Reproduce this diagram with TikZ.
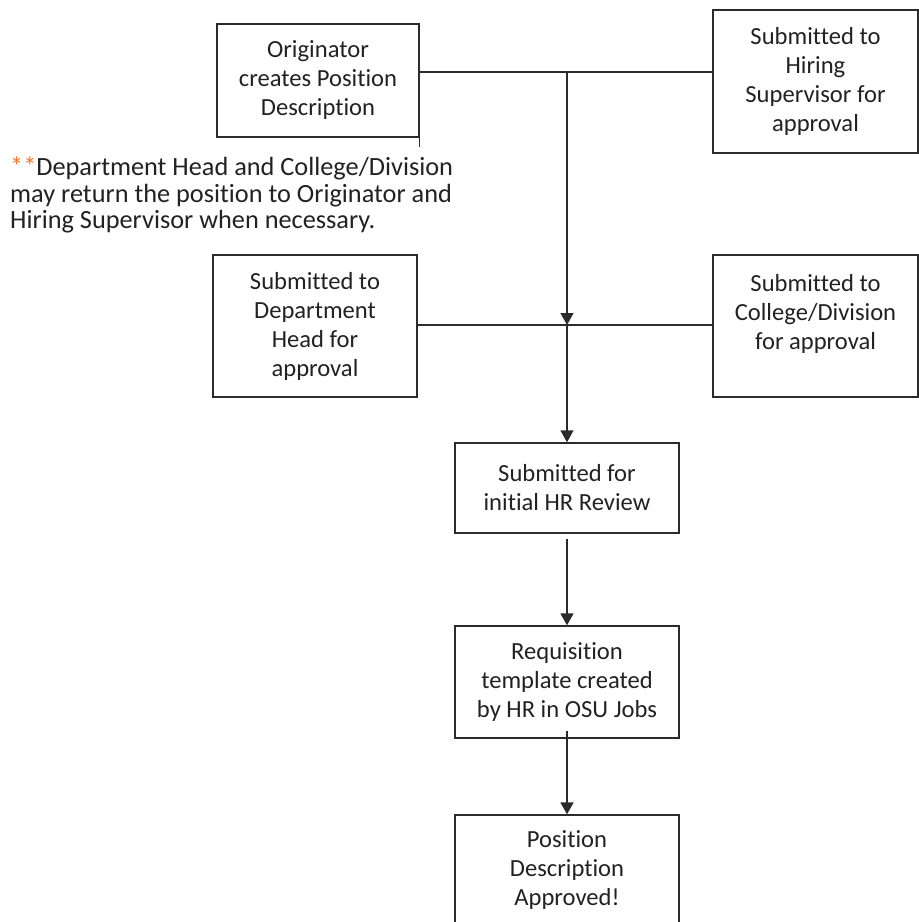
\documentclass[tikz,border=0pt]{standalone}
\usepackage{fontspec}
\setmainfont{Carlito}[Ligatures={NoCommon}]
\usetikzlibrary{arrows.meta}
\definecolor{linec}{HTML}{2B2B2B}
\definecolor{txtc}{HTML}{222222}
\definecolor{starc}{HTML}{F7742A}
\begin{document}
\begin{tikzpicture}[x=1pt,y=-1pt,
  box/.style={draw=linec, line width=1.4pt, inner sep=0pt, align=center, text=txtc,
    font=\fontsize{24.6}{29}\selectfont},
  conn/.style={draw=linec, line width=1.4pt},
  arr/.style={draw=linec, line width=1.8pt, -{Triangle[width=13pt,length=12pt]}}]
\clip (0,0) rectangle (919,922);
\fill[white] (0,0) rectangle (919,922);
% boxes
\node[box, minimum width=202pt, minimum height=113pt] (orig) at (318,80.5)
  {Originator\\creates Position\\Description};
\node[box, minimum width=205pt, minimum height=143pt] (hire) at (815.5,81.5)
  {Submitted to\\Hiring\\Supervisor for\\approval};
\node[box, minimum width=204pt, minimum height=142pt] (dept) at (315,326)
  {Submitted to\\Department\\Head for\\approval};
\node[box, minimum width=205pt, minimum height=142pt] (coll) at (815.5,326)
  {Submitted to\\College/Division\\for approval\\\mbox{}};
\node[box, minimum width=224pt, minimum height=90pt] (hr) at (567,488)
  {Submitted for\\initial HR Review};
\node[box, minimum width=224pt, minimum height=112pt] (req) at (567,682)
  {Requisition\\template created\\by HR in OSU Jobs};
\node[box, minimum width=224pt, minimum height=110pt] (pos) at (567,870)
  {Position\\Description\\Approved!};
% note
\node[anchor=north west, inner sep=0pt, align=left, text=txtc,
  font=\fontsize{26.3}{26.5}\selectfont] (note) at (10,157)
  {\textcolor{starc}{**}Department Head and College/Division\\
   may return the position to Originator and\\
   Hiring Supervisor when necessary.};
% connectors
\coordinate (top) at (567,72);
\coordinate (mid) at (567,325);
\draw[conn] (orig.east |- top) -- (hire.west |- top);
\draw[conn] (orig.south east) -- ++(0,9);
\draw[arr, line width=1.4pt] (top) -- (mid);
\draw[conn] (dept.east |- mid) -- (coll.west |- mid);
\draw[arr, line width=1.4pt] (mid) -- (hr.north);
\draw[arr] ([yshift=-5pt]hr.south) -- (req.north);
\draw[arr] ([yshift=8pt]req.south) -- (pos.north);
\end{tikzpicture}
\end{document}
